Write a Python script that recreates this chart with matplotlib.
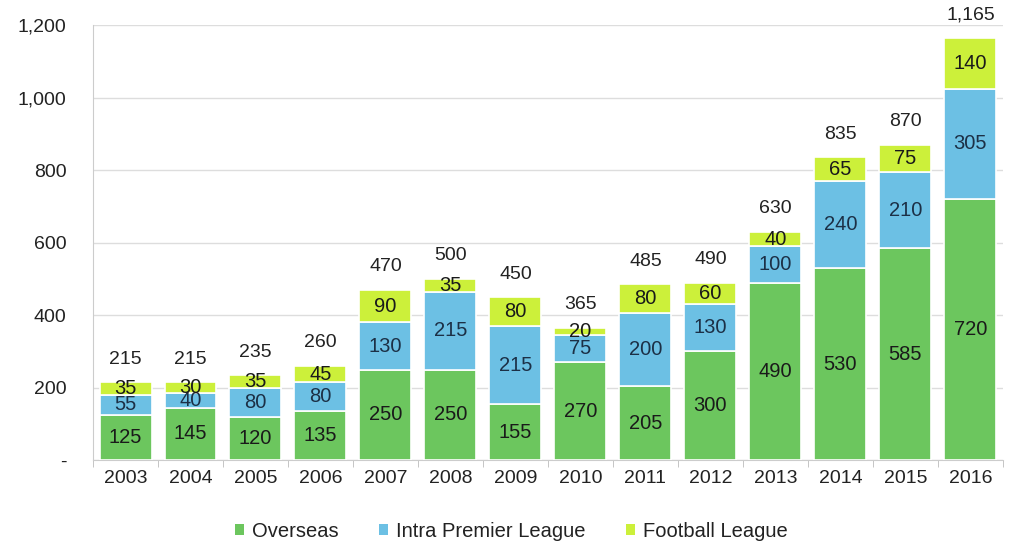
import matplotlib
matplotlib.use("Agg")
import matplotlib.pyplot as plt
import numpy as np
from matplotlib.ticker import FuncFormatter

plt.rcParams['font.family'] = ['Liberation Sans', 'DejaVu Sans']

years = ['2003', '2004', '2005', '2006', '2007', '2008', '2009', '2010',
         '2011', '2012', '2013', '2014', '2015', '2016']
overseas = [125, 145, 120, 135, 250, 250, 155, 270, 205, 300, 490, 530, 585, 720]
intra_pl = [55, 40, 80, 80, 130, 215, 215, 75, 200, 130, 100, 240, 210, 305]
football_league = [35, 30, 35, 45, 90, 35, 80, 20, 80, 60, 40, 65, 75, 140]
totals = [215, 215, 235, 260, 470, 500, 450, 365, 485, 490, 630, 835, 870, 1165]

c_green = '#6cc65e'
c_blue = '#6cc0e4'
c_yellow = '#ccf03a'

fig = plt.figure(figsize=(10.11, 5.46), dpi=100)
ax = fig.add_axes([0.092, 0.157, 0.9, 0.797])

x = np.arange(len(years))
w = 0.8
ov = np.array(overseas)
ip = np.array(intra_pl)
fl = np.array(football_league)

b1 = ax.bar(x, ov, w, color=c_green, edgecolor='white', linewidth=1.2, label='Overseas', zorder=3)
b2 = ax.bar(x, ip, w, bottom=ov, color=c_blue, edgecolor='white', linewidth=1.2, label='Intra Premier League', zorder=3)
b3 = ax.bar(x, fl, w, bottom=ov + ip, color=c_yellow, edgecolor='white', linewidth=1.2, label='Football League', zorder=3)

fs = 14.5
for i in range(len(years)):
    ax.text(x[i], ov[i] / 2, f'{overseas[i]}', ha='center', va='center', fontsize=fs, color='#1a1a1a', zorder=4)
    ax.text(x[i], ov[i] + ip[i] / 2, f'{intra_pl[i]}', ha='center', va='center', fontsize=fs, color='#1c3046', zorder=4)
    ax.text(x[i], ov[i] + ip[i] + fl[i] / 2, f'{football_league[i]}', ha='center', va='center', fontsize=fs, color='#1a1a1a', zorder=4)
    ax.text(x[i], totals[i] + 40, f'{totals[i]:,}', ha='center', va='bottom', fontsize=fs - 0.5, color='#222222', zorder=4)

ax.set_xlim(-0.5, len(years) - 0.5)
ax.set_ylim(0, 1200)
ax.set_yticks([0, 200, 400, 600, 800, 1000, 1200])
ax.yaxis.set_major_formatter(FuncFormatter(lambda v, p: '-' if v == 0 else f'{int(v):,}'))
ax.set_xticks(x)
ax.set_xticklabels(years)
ax.set_xticks(np.arange(-0.5, len(years), 1), minor=True)
ax.tick_params(axis='x', which='major', length=0, labelsize=14, pad=7, colors='#222222')
ax.tick_params(axis='x', which='minor', length=5, color='#bbbbbb')
ax.tick_params(axis='y', length=0, labelsize=14, pad=19, colors='#222222')
for t in ax.get_yticklabels():
    t.set_ha('right')

ax.grid(axis='y', color='#dddddd', linewidth=1, zorder=0)
for s in ['top', 'right']:
    ax.spines[s].set_visible(False)
ax.spines['left'].set_color('#cccccc')
ax.spines['bottom'].set_color('#cccccc')

leg = fig.legend(handles=[b1, b2, b3], loc='center', bbox_to_anchor=(0.506, 0.027), ncol=3,
                 frameon=False, fontsize=14.5, handlelength=0.45, handleheight=0.45,
                 handletextpad=0.4, columnspacing=2.0)
for t in leg.get_texts():
    t.set_color('#222222')
for h in leg.legend_handles:
    h.set_edgecolor('none')

fig.savefig('out.png', dpi=100)
